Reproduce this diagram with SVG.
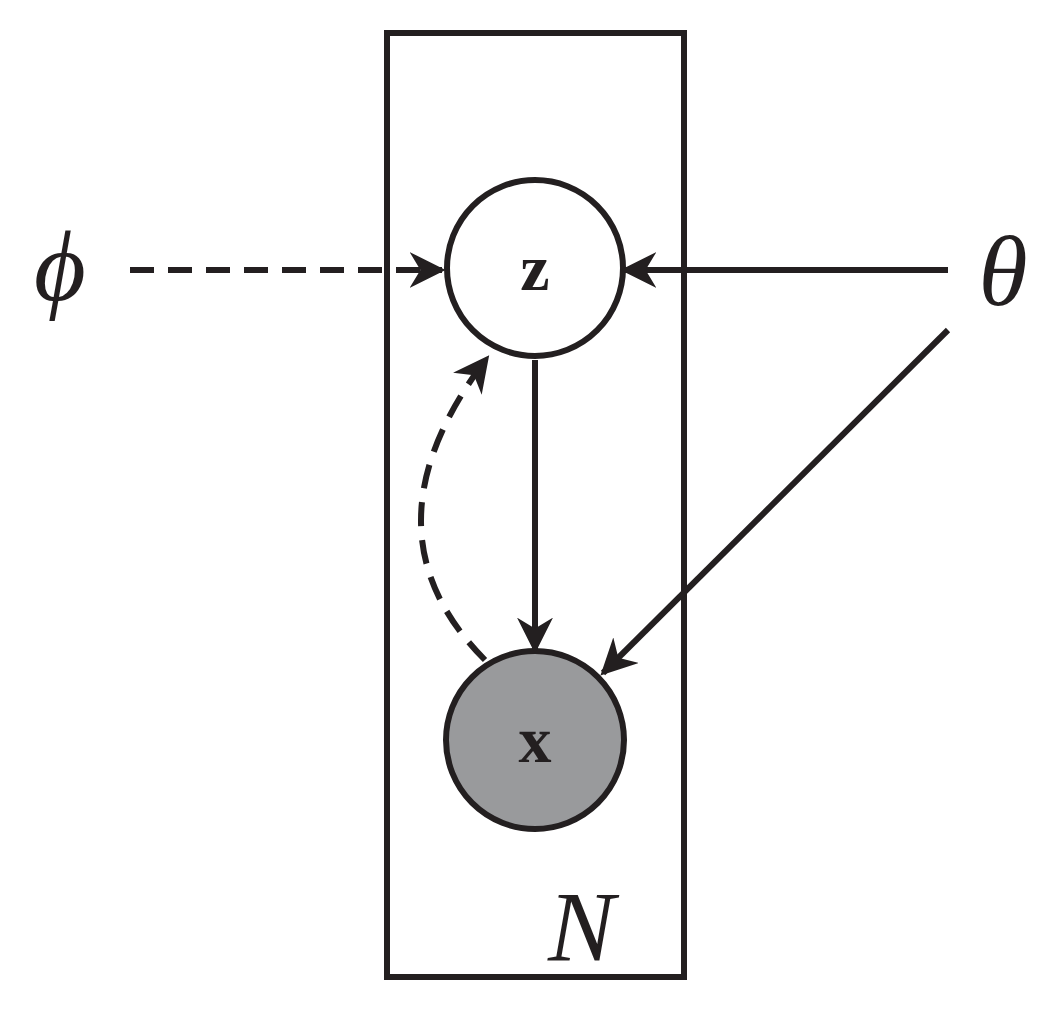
<svg xmlns="http://www.w3.org/2000/svg" width="1059" height="1011" viewBox="0 0 1059 1011">
<style>
.l{stroke:#231f20;stroke-width:6;fill:none}
.d{stroke-dasharray:24 14}
.t{font-family:"Liberation Serif",serif;fill:#231f20}
</style>
<defs>
<marker id="a" viewBox="0 0 10 10" refX="9" refY="5" markerWidth="6" markerHeight="6" orient="auto" markerUnits="strokeWidth">
<path d="M0,0 L10,5 L0,10 L3,5 Z" fill="#231f20"/>
</marker>
</defs>
<g id="plate"><rect x="387" y="33" width="297" height="944" class="l"/>
<text x="548" y="960" class="t" font-style="italic" font-size="100">N</text></g>
<g id="z"><circle cx="535" cy="268" r="88" class="l" style="fill:#fff"/>
<text x="535" y="290" class="t" font-weight="bold" font-size="66" text-anchor="middle">z</text></g>
<g id="x"><circle cx="535" cy="740" r="89" class="l" style="fill:#999a9c"/>
<text x="535" y="762" class="t" font-weight="bold" font-size="66" text-anchor="middle">x</text></g>
<g id="phi"><text x="60" y="300" class="t" font-style="italic" font-size="100" text-anchor="middle">ϕ</text></g>
<g id="theta"><text x="1003" y="305" class="t" font-style="italic" font-size="100" text-anchor="middle">θ</text></g>
<g id="edges">
<line x1="130" y1="270" x2="442" y2="270" class="l d" marker-end="url(#a)"/>
<line x1="948" y1="270" x2="624" y2="270" class="l" marker-end="url(#a)"/>
<line x1="948" y1="330" x2="603" y2="673" class="l" marker-end="url(#a)"/>
<line x1="535" y1="360" x2="535" y2="650" class="l" marker-end="url(#a)"/>
<path d="M485,660 Q356,530 487,358" class="l d" marker-end="url(#a)"/>
</g>
</svg>
